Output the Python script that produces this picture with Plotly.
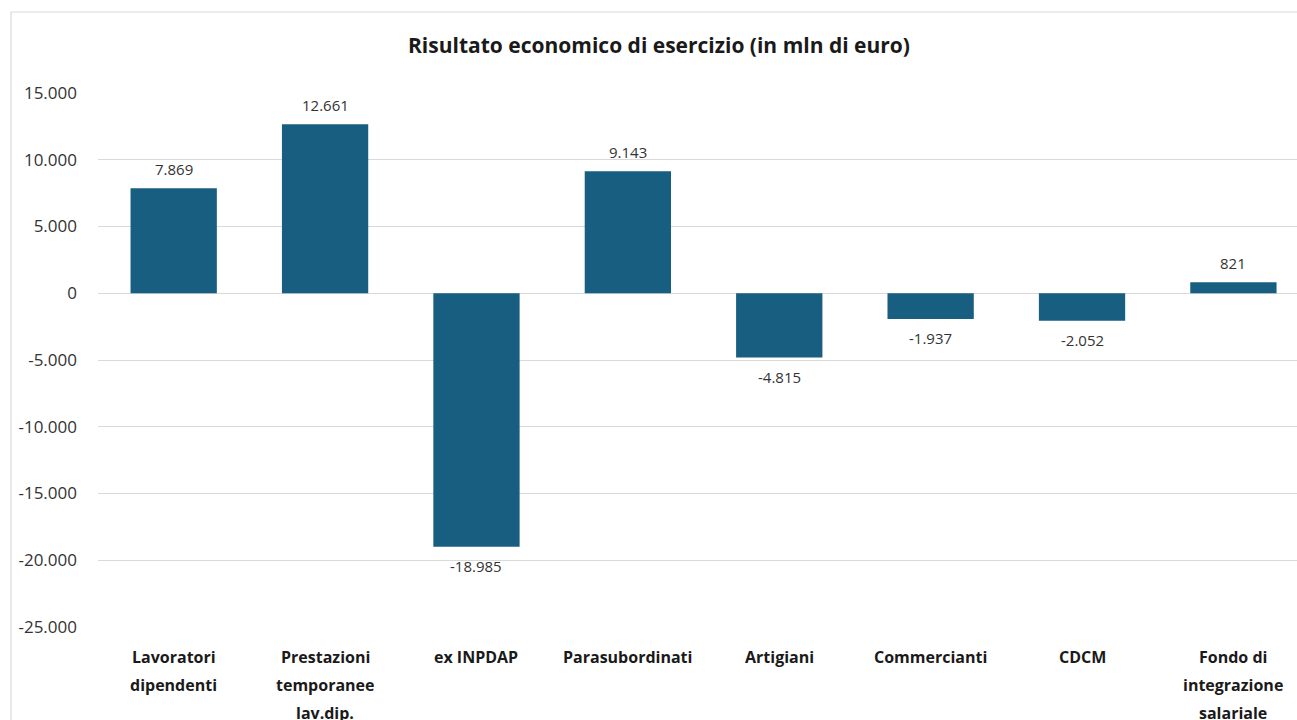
import plotly.graph_objects as go

# Risultato economico di esercizio per gestione (mln di euro)
categorie = [
    "Lavoratori\ndipendenti",
    "Prestazioni\ntemporanee\nlav.dip.",
    "ex INPDAP",
    "Parasubordinati",
    "Artigiani",
    "Commercianti",
    "CDCM",
    "Fondo di\nintegrazione\nsalariale",
]
risultato = [7869, 12661, -18985, 9143, -4815, -1937, -2052, 821]
tick_valori = [15000, 10000, 5000, 0, -5000, -10000, -15000, -20000, -25000]

BAR_COLOR = "#175e80"
GRID_COLOR = "#d9d9d9"
FONT = "Open Sans"
W, H = 1297, 720
PLOT_L, PLOT_T, PLOT_B = 98, 93, 627


def fmt_it(v):
    s = f"{abs(v):,}".replace(",", ".")
    return ("-" if v < 0 else "") + s


x_idx = list(range(len(categorie)))

fig = go.Figure(
    go.Bar(
        x=x_idx,
        y=risultato,
        width=0.57,
        marker=dict(color=BAR_COLOR, line=dict(width=0)),
        hoverinfo="skip",
    )
)

span_x = W - PLOT_L
span_y = PLOT_B - PLOT_T

annotations = []
# value labels above/below each bar
for i, v in zip(x_idx, risultato):
    annotations.append(dict(
        x=i, y=v, xref="x", yref="y", text=fmt_it(v), showarrow=False,
        yshift=19 if v >= 0 else -19,
        font=dict(family=FONT, size=15, color="#333333"),
    ))

# category labels, one annotation per line
for i, lab in zip(x_idx, categorie):
    for k, line in enumerate(lab.split("\n")):
        annotations.append(dict(
            x=i, y=0, xref="x", yref="paper", text=f"<b>{line}</b>",
            showarrow=False, yanchor="middle", yshift=-30 - 28 * k,
            font=dict(family=FONT, size=16, color="#1a1a1a"),
        ))

# chart title
annotations.append(dict(
    x=(659 - PLOT_L) / span_x, y=1 + (PLOT_T - 45) / span_y,
    xref="paper", yref="paper",
    text="<b>Risultato economico di esercizio (in mln di euro)</b>",
    showarrow=False, xanchor="center", yanchor="middle",
    font=dict(family=FONT, size=21, color="#1a1a1a"),
))

# outer frame of the chart box
shapes = [dict(
    type="rect", xref="paper", yref="paper",
    x0=(11 - PLOT_L) / span_x, x1=(1320 - PLOT_L) / span_x,
    y0=-(760 - PLOT_B) / span_y, y1=1 + (PLOT_T - 12) / span_y,
    line=dict(color=GRID_COLOR, width=1.2), fillcolor="rgba(0,0,0,0)",
    layer="below",
)]

fig.update_layout(
    width=W, height=H,
    margin=dict(l=PLOT_L, r=0, t=PLOT_T, b=H - PLOT_B, pad=0),
    paper_bgcolor="white", plot_bgcolor="white",
    showlegend=False,
    annotations=annotations,
    shapes=shapes,
    xaxis=dict(
        range=[-0.5, 7.42], showticklabels=False, showgrid=False,
        zeroline=False, showline=False, fixedrange=True,
    ),
    yaxis=dict(
        range=[-25000, 15000], tickvals=tick_valori,
        ticktext=[fmt_it(v) for v in tick_valori],
        showgrid=True, gridcolor=GRID_COLOR, gridwidth=1,
        zeroline=True, zerolinecolor=GRID_COLOR, zerolinewidth=1,
        showline=False, ticks="", ticklabelstandoff=20,
        tickfont=dict(family=FONT, size=17, color="#333333"),
        fixedrange=True,
    ),
)

fig.write_html("out.html", config={"displayModeBar": False})
